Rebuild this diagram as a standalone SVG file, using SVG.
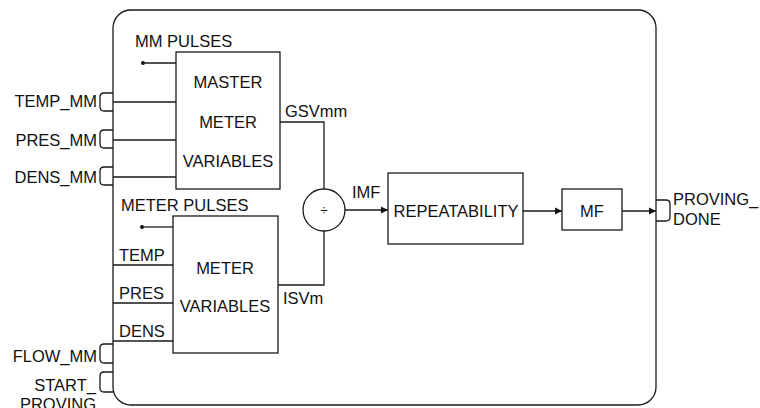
<svg xmlns="http://www.w3.org/2000/svg" width="760" height="408" viewBox="0 0 760 408">
<defs>
<style>
.ln{fill:none;stroke:#1a1a1a;stroke-width:1.3}
.bx{fill:#fff;stroke:#1a1a1a;stroke-width:1.3}
text{font-family:"Liberation Sans",Arial,sans-serif;font-size:16.5px;fill:#111}
.m{text-anchor:middle}
.e{text-anchor:end}
</style>
<marker id="ah" markerWidth="8" markerHeight="8" refX="7" refY="4" orient="auto" markerUnits="userSpaceOnUse">
<path d="M0,0.5 L7,4 L0,7.5 Z" fill="#111"/>
</marker>
</defs>
<rect width="760" height="408" fill="#fff"/>
<g id="frame">
<rect x="113" y="10" width="543" height="395" rx="18" ry="18" class="ln"/>
</g>
<g id="ports">
<path class="ln" d="M113,93 H104 Q100,93 100,97 V107 Q100,111 104,111 H113"/>
<text class="e" x="97" y="107">TEMP_MM</text>
<path class="ln" d="M113,130 H104 Q100,130 100,134 V144 Q100,148 104,148 H113"/>
<text class="e" x="97" y="146">PRES_MM</text>
<path class="ln" d="M113,167 H104 Q100,167 100,171 V181 Q100,185 104,185 H113"/>
<text class="e" x="97" y="183">DENS_MM</text>
<path class="ln" d="M113,344 H104 Q100,344 100,348 V359 Q100,363 104,363 H113"/>
<text class="e" x="97" y="362">FLOW_MM</text>
<path class="ln" d="M113,372 H104 Q100,372 100,376 V388 Q100,392 104,392 H113"/>
<text class="e" x="96" y="391">START_</text>
<text class="e" x="96" y="410">PROVING</text>
<path class="ln" d="M656,200 H666 Q670,200 670,204 V217 Q670,221 666,221 H656"/>
<text x="673" y="205">PROVING_</text>
<text x="673" y="225">DONE</text>
</g>
<g id="connectors">
<circle cx="143" cy="63" r="2" fill="#111"/>
<path class="ln" d="M143,63 H176"/>
<text x="135" y="47">MM PULSES</text>
<path class="ln" d="M113,102 H176 M113,140 H176 M113,177 H176"/>
<circle cx="142" cy="227" r="2" fill="#111"/>
<path class="ln" d="M142,227 H173"/>
<text x="121" y="211">METER PULSES</text>
<path class="ln" d="M113,265 H173 M113,303 H173 M113,341 H173"/>
<text x="119" y="261">TEMP</text>
<text x="119" y="299">PRES</text>
<text x="119" y="337">DENS</text>
<path class="ln" d="M280,122 H324 V189"/>
<text x="285" y="117">GSVmm</text>
<path class="ln" d="M324,231 V285 H278"/>
<text x="283" y="304">ISVm</text>
<path class="ln" d="M345,210 H388" marker-end="url(#ah)"/>
<text x="352" y="198">IMF</text>
<path class="ln" d="M523,211 H562" marker-end="url(#ah)"/>
<path class="ln" d="M622,211 H656" marker-end="url(#ah)"/>
</g>
<g id="master">
<rect x="176" y="52" width="104" height="137" class="bx"/>
<text class="m" x="228" y="88">MASTER</text>
<text class="m" x="228" y="128">METER</text>
<text class="m" x="228" y="167">VARIABLES</text>
</g>
<g id="meter">
<rect x="173" y="216" width="105" height="137" class="bx"/>
<text class="m" x="225" y="274">METER</text>
<text class="m" x="225" y="312">VARIABLES</text>
</g>
<g id="divide">
<circle cx="324" cy="210" r="21" class="bx"/>
<text class="m" x="324" y="215" style="font-size:13px">÷</text>
</g>
<g id="repeatability">
<rect x="388" y="173" width="135" height="71" class="bx"/>
<text class="m" x="456" y="217">REPEATABILITY</text>
</g>
<g id="mf">
<rect x="562" y="189" width="60" height="41" class="bx"/>
<text class="m" x="592" y="217">MF</text>
</g>
</svg>
